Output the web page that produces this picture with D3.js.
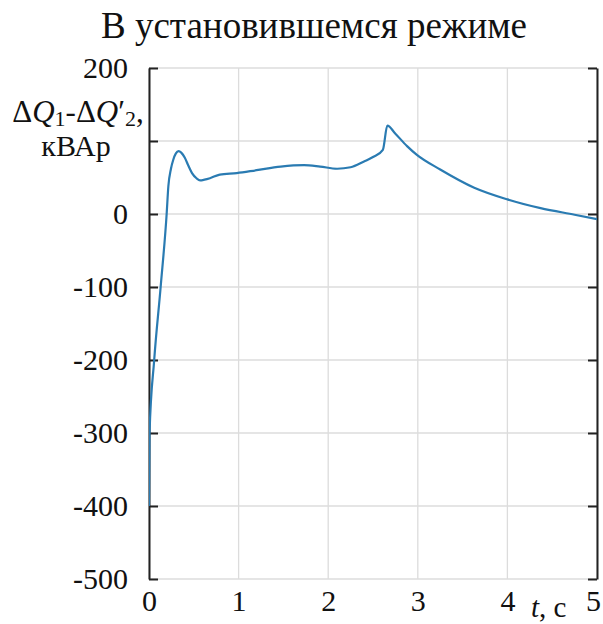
<!DOCTYPE html>
<html><head><meta charset="utf-8">
<script src="https://cdn.jsdelivr.net/npm/d3@7"></script>
<style>body{margin:0;background:#fff;} svg{display:block;}</style>
</head><body>
<svg id="c" width="603" height="624"></svg>
<script>
const tVals = [0, 0.006, 0.058, 0.13, 0.197, 0.216, 0.245, 0.27, 0.3, 0.33, 0.36, 0.4, 0.44, 0.48, 0.53, 0.57, 0.62, 0.68, 0.79, 0.98, 1.2, 1.47, 1.73, 1.91, 2.1, 2.25, 2.4, 2.5, 2.61, 2.66, 2.75, 2.88, 2.99, 3.25, 3.63, 4.0, 4.37, 4.75, 5.0];
const qVals = [-400, -300, -200, -100, 0, 38, 62, 74, 83, 86, 84, 77, 66, 56, 49, 46, 47, 49, 54, 56, 60, 65, 67, 65, 62, 64, 72, 78, 88, 121, 110, 93, 81, 61, 36, 20, 8, -1, -7];
const xTicks = [0, 1, 2, 3, 4, 5];
const yTicks = [-500, -400, -300, -200, -100, 0, 100, 200];
const yTickLabels = ["-500", "-400", "-300", "-200", "-100", "0", "", "200"];
const title = "В установившемся режиме";
const FONT = '"Liberation Serif"';

const svg = d3.select("#c");
const L = 149, R = 597, T = 68, B = 579;
const x = d3.scaleLinear().domain([0, 5]).range([L, R]);
const y = d3.scaleLinear().domain([-500, 200]).range([B, T]);

// grid
svg.append("g").selectAll("line").data(xTicks).join("line")
  .attr("x1", d => x(d)).attr("x2", d => x(d)).attr("y1", T).attr("y2", B)
  .attr("stroke", "#dcdcdc").attr("stroke-width", 1.3);
svg.append("g").selectAll("line").data(yTicks).join("line")
  .attr("x1", L).attr("x2", R).attr("y1", d => y(d)).attr("y2", d => y(d))
  .attr("stroke", "#dcdcdc").attr("stroke-width", 1.3);

// left axis
const yl = svg.append("g").attr("transform", `translate(${L},0)`)
  .call(d3.axisLeft(y).tickValues(yTicks).tickSizeInner(-9).tickSizeOuter(0).tickPadding(21)
    .tickFormat((d, i) => yTickLabels[i]));
yl.select(".domain").attr("stroke", "#222").attr("stroke-width", 2);
yl.selectAll(".tick line").attr("stroke", "#222").attr("stroke-width", 2);
yl.selectAll(".tick text").attr("fill", "#111").style("font-family", FONT).style("font-size", "30px");

// right axis
const yr = svg.append("g").attr("transform", `translate(${R},0)`)
  .call(d3.axisRight(y).tickValues(yTicks).tickSizeInner(-9).tickSizeOuter(0).tickFormat(""));
yr.select(".domain").attr("stroke", "#222").attr("stroke-width", 2);
yr.selectAll(".tick line").attr("stroke", "#222").attr("stroke-width", 2);

// x labels
const xl = svg.append("g").attr("transform", `translate(0,${B})`)
  .call(d3.axisBottom(x).tickValues(xTicks).tickSize(0).tickFormat(d => String(d)));
xl.select(".domain").remove();
xl.selectAll(".tick text").attr("fill", "#111").style("font-family", FONT).style("font-size", "30px")
  .attr("dy", null).attr("y", 32).attr("dx", d => d === 5 ? -4 : 0);

// line
svg.append("clipPath").attr("id", "clip").append("rect").attr("x", L).attr("y", T).attr("width", R - L).attr("height", B - T);
const data = tVals.map((t, i) => [t, qVals[i]]);
svg.append("path").datum(data).attr("clip-path", "url(#clip)")
  .attr("fill", "none").attr("stroke", "#2a7bb2").attr("stroke-width", 2.2)
  .attr("stroke-linejoin", "round")
  .attr("d", d3.line().x(d => x(d[0])).y(d => y(d[1])).curve(d3.curveMonotoneX));

// title
svg.append("text").attr("x", 314).attr("y", 38).attr("text-anchor", "middle").attr("fill", "#111")
  .style("font-family", FONT).style("font-size", "37px").text(title);

// y label
const lab = svg.append("text").attr("x", 78).attr("y", 122).attr("text-anchor", "middle").attr("fill", "#111")
  .style("font-family", FONT).style("font-size", "31px");
lab.append("tspan").text("Δ");
lab.append("tspan").attr("font-style", "italic").text("Q");
lab.append("tspan").attr("dy", 4).style("font-size", "22px").text("1");
lab.append("tspan").attr("dy", -4).text("-Δ");
lab.append("tspan").attr("font-style", "italic").text("Q");
lab.append("tspan").text("′");
lab.append("tspan").attr("dy", 4).style("font-size", "22px").text("2");
lab.append("tspan").attr("dy", -4).text(",");
svg.append("text").attr("x", 76).attr("y", 156).attr("text-anchor", "middle").attr("fill", "#111")
  .style("font-family", FONT).style("font-size", "30px").text("кВАр");

// x label
const xlab = svg.append("text").attr("x", 531).attr("y", 617).attr("fill", "#111")
  .style("font-family", FONT).style("font-size", "29px");
xlab.append("tspan").attr("font-style", "italic").text("t");
xlab.append("tspan").text(", с");
</script>
</body></html>
